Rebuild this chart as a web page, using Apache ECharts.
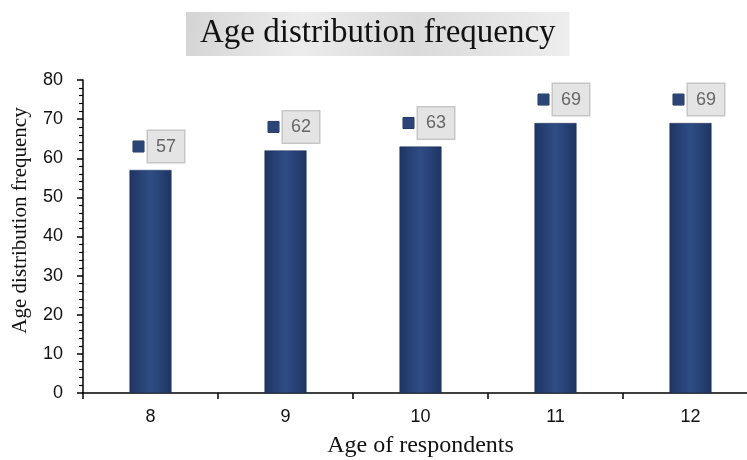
<!DOCTYPE html>
<html><head><meta charset="utf-8">
<script src="https://cdn.jsdelivr.net/npm/echarts@6/dist/echarts.min.js"></script>
<style>html,body{margin:0;padding:0;background:#fff}#c{width:747px;height:460px}</style>
</head><body><div id="c"></div>
<script>
const categories = ['8', '9', '10', '11', '12'];
const values = [57, 62, 63, 69, 69];
const yTicks = [0, 10, 20, 30, 40, 50, 60, 70, 80];

const chart = echarts.init(document.getElementById('c'));
const barColor = new echarts.graphic.LinearGradient(0, 0, 1, 0, [
  {offset: 0, color: '#1e3563'},
  {offset: 0.5, color: '#2f4d85'},
  {offset: 1, color: '#1e3563'}
]);
chart.setOption({
  animation: false,
  title: {
    text: 'Age distribution frequency',
    left: 186,
    top: 12,
    padding: [5, 14, 6, 14],
    backgroundColor: new echarts.graphic.LinearGradient(0, 0, 1, 1, [
      {offset: 0, color: '#d4d4d4'},
      {offset: 0.3, color: '#ececec'},
      {offset: 0.6, color: '#dadada'},
      {offset: 1, color: '#eeeeee'}
    ]),
    textStyle: {fontFamily: 'Liberation Serif', fontSize: 33, fontWeight: 'normal', color: '#111'}
  },
  grid: {left: 83, top: 80, width: 675, height: 313, outerBoundsMode: 'none', containLabel: false},
  xAxis: {
    type: 'category',
    data: categories,
    name: 'Age of respondents',
    nameLocation: 'middle',
    nameGap: 41,
    nameTextStyle: {fontFamily: 'Liberation Serif', fontSize: 24, color: '#111'},
    axisLine: {lineStyle: {color: '#000', width: 1.5}},
    axisTick: {show: true, length: 6, lineStyle: {color: '#000', width: 1.5}},
    axisLabel: {fontFamily: 'Liberation Sans', fontSize: 18, color: '#111', margin: 15}
  },
  yAxis: {
    type: 'value',
    min: yTicks[0], max: yTicks[yTicks.length - 1], interval: 10,
    name: 'Age distribution frequency',
    nameLocation: 'middle',
    nameGap: 52,
    nameTextStyle: {fontFamily: 'Liberation Serif', fontSize: 21, color: '#111', padding: [0, 0, 0, 32]},
    axisLine: {show: true, lineStyle: {color: '#000', width: 1.5}},
    axisTick: {show: true, length: 6, lineStyle: {color: '#000', width: 1.5}},
    minorTick: {show: true, splitNumber: 5, length: 4, lineStyle: {color: '#000', width: 1.2}},
    splitLine: {show: false},
    axisLabel: {fontFamily: 'Liberation Sans', fontSize: 18, color: '#111', margin: 20}
  },
  series: [{
    type: 'bar',
    data: values,
    barWidth: 42,
    itemStyle: {color: barColor, borderColor: '#1a2d55', borderWidth: 0.5},
    label: {
      show: true,
      position: 'top',
      distance: 8,
      offset: [8, 0],
      formatter: p => '{icon|}{gap|}{box|' + p.value + '}',
      rich: {
        icon: {width: 11, height: 11, backgroundColor: '#2b4577', borderColor: '#1a2d55', borderWidth: 0.5},
        gap: {width: 4},
        box: {
          fontFamily: 'Liberation Sans', fontSize: 18, color: '#666',
          backgroundColor: '#e4e4e4', borderColor: '#c6c6c6', borderWidth: 1.5,
          padding: [7, 6, 6, 6], width: 24, align: 'center'
        }
      }
    }
  }]
});
</script></body></html>
